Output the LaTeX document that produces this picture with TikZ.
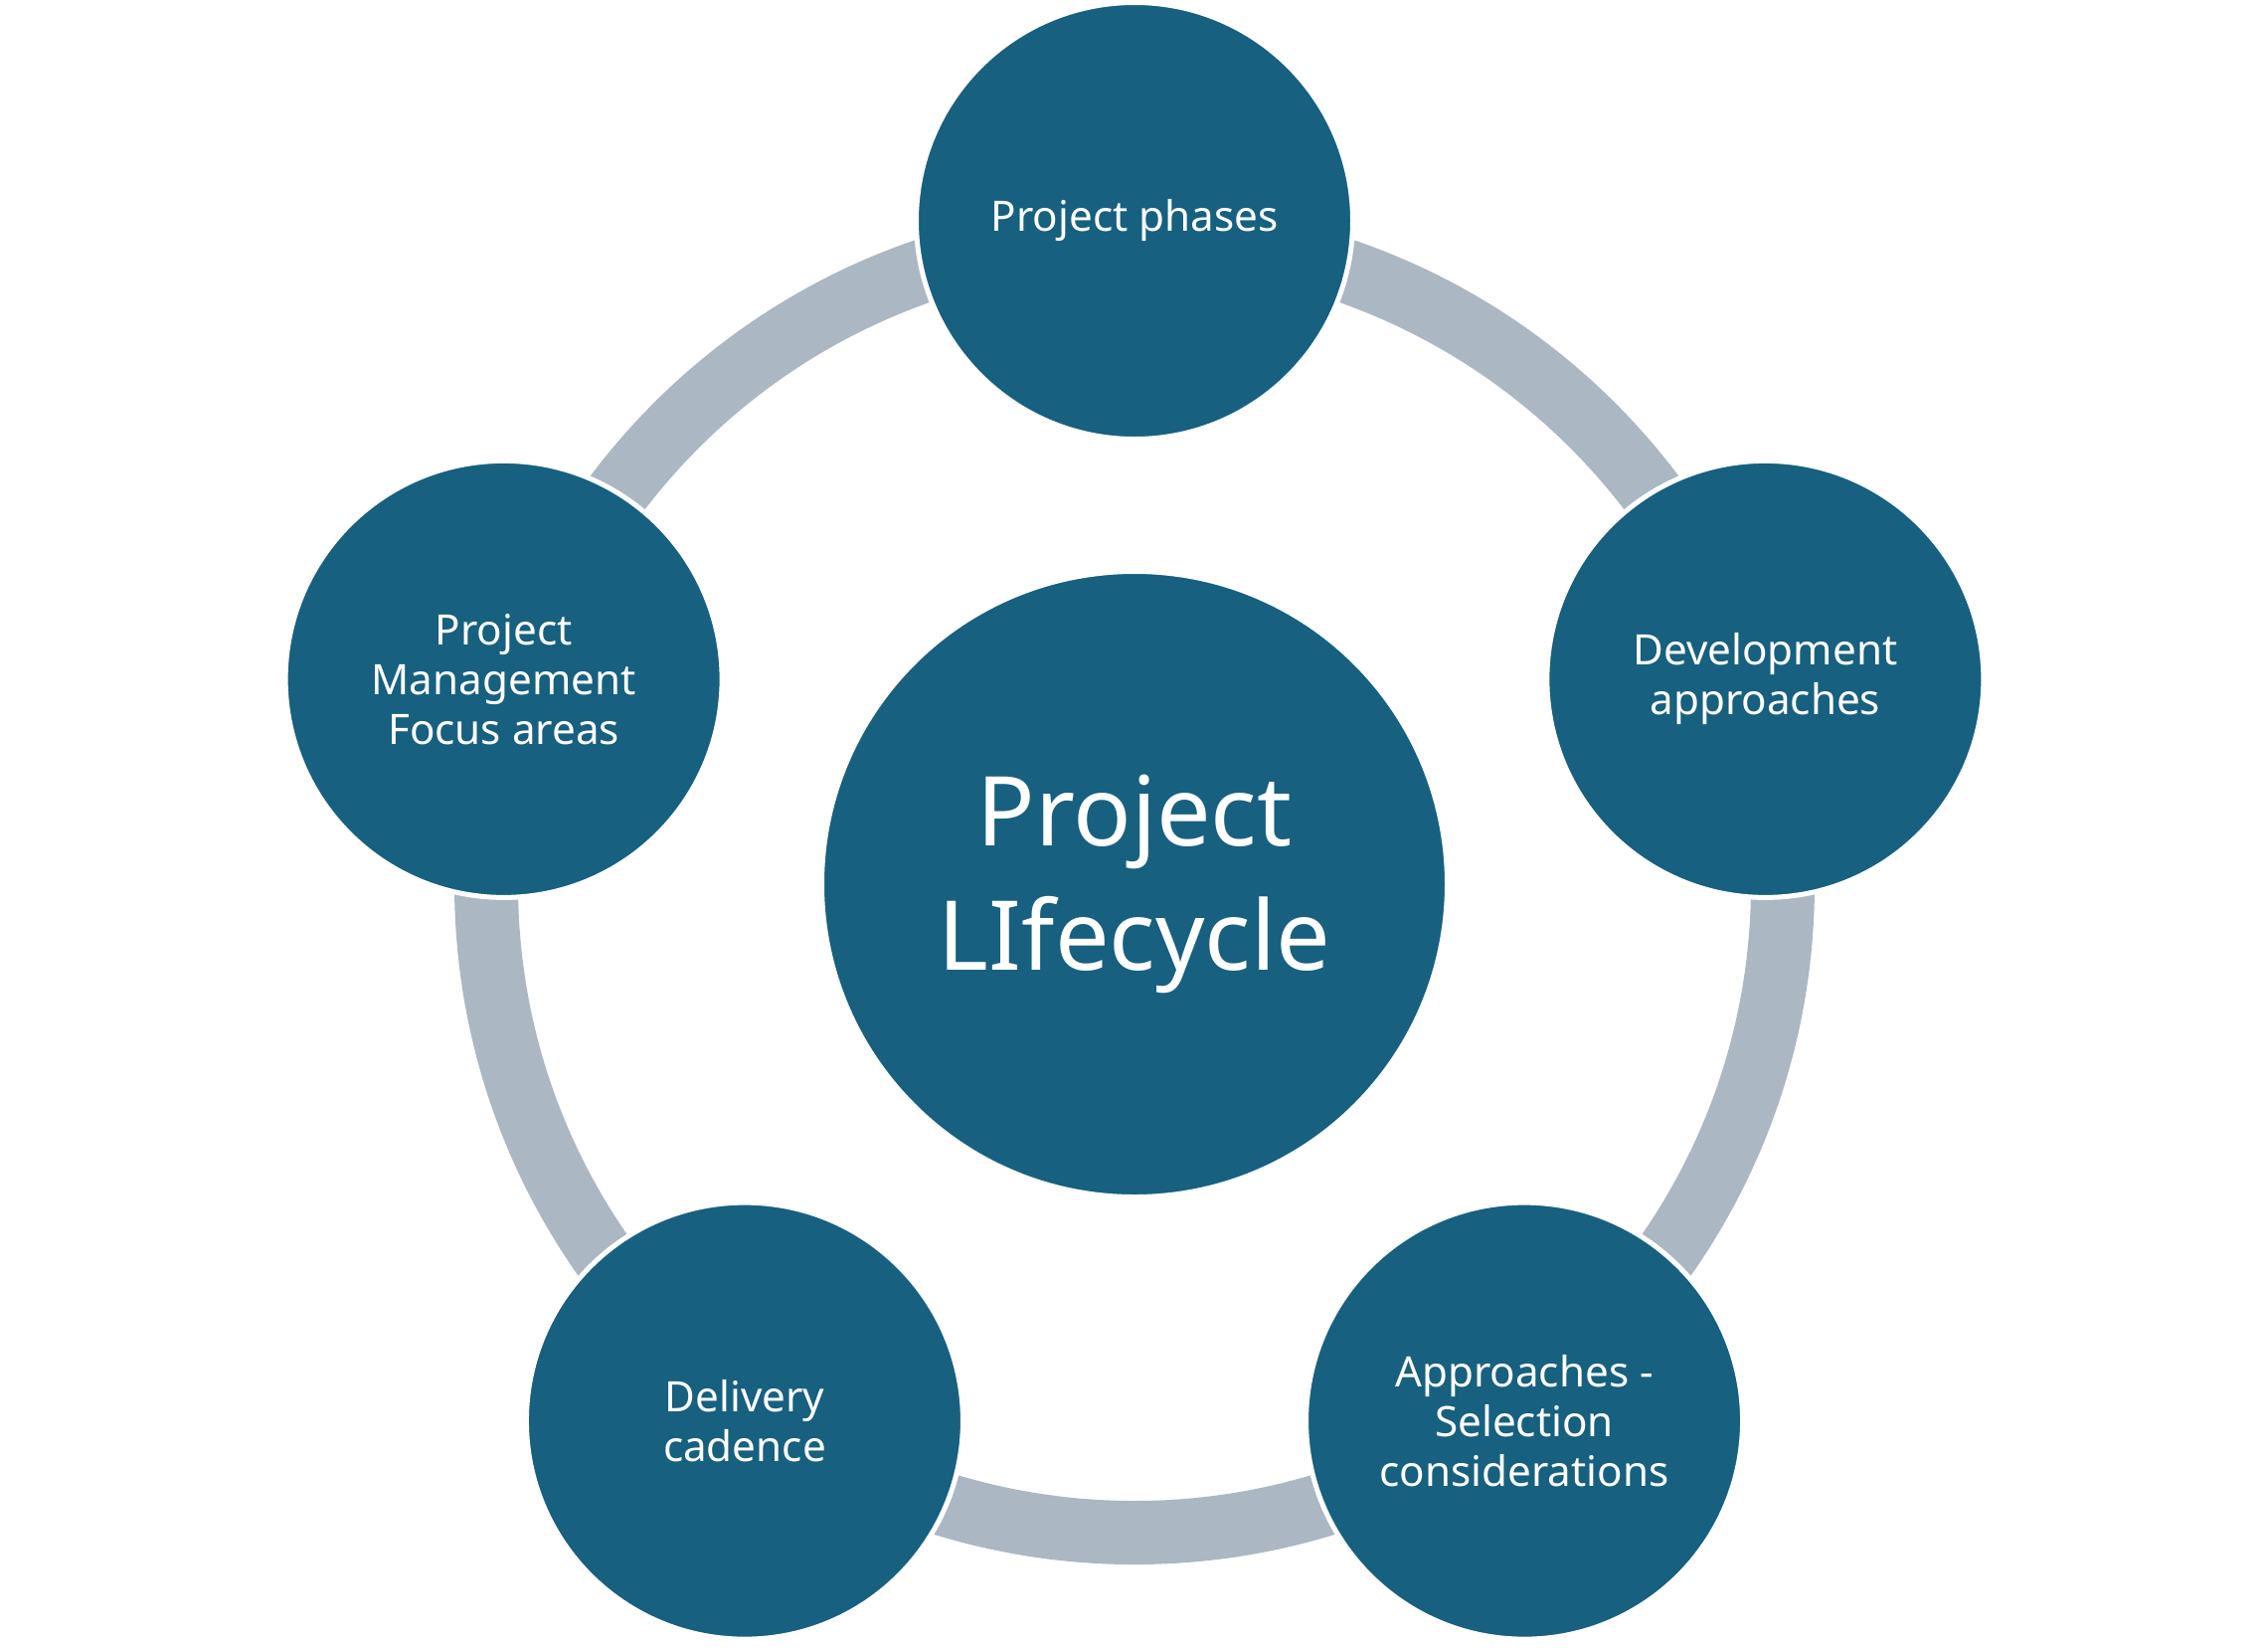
\documentclass[tikz,border=0pt]{standalone}
\usepackage{fontspec}
\setmainfont{Noto Sans}
\usetikzlibrary{positioning}
\definecolor{mteal}{HTML}{17607F}
\definecolor{mring}{HTML}{ABB7C3}
\tikzstyle{topic} = [circle, minimum size = 4.39cm, inner sep = 0pt, align = center, text = white, fill = mteal, draw = white, line width = 0.05cm, font = \fontsize{12}{14.2}\selectfont]
\tikzstyle{hub} = [topic, minimum size = 6.29cm, font = \fontsize{27.6}{35.6}\selectfont]
\tikzstyle{ring} = [mring, line width = 0.64cm]

\begin{document}
\begin{tikzpicture}
\useasboundingbox (-11.41,-7.70) rectangle (11.40,8.89);
%Ring behind the topics
\draw [ring] (0,0) circle (6.52);
%Topics
\node (lifecycle) [hub] at (0,0) {Project\\LIfecycle};
\node (phases) [topic] at (90:6.67) {Project phases};
\node (devel) [topic] at (18:6.67) {Development\\approaches};
\node (select) [topic] at (-54:6.67) {Approaches -\\Selection\\considerations};
\node (cadence) [topic] at (-126:6.67) {Delivery\\cadence};
\node (focus) [topic] at (162:6.67) {Project\\Management\\Focus areas};
\end{tikzpicture}
\end{document}
